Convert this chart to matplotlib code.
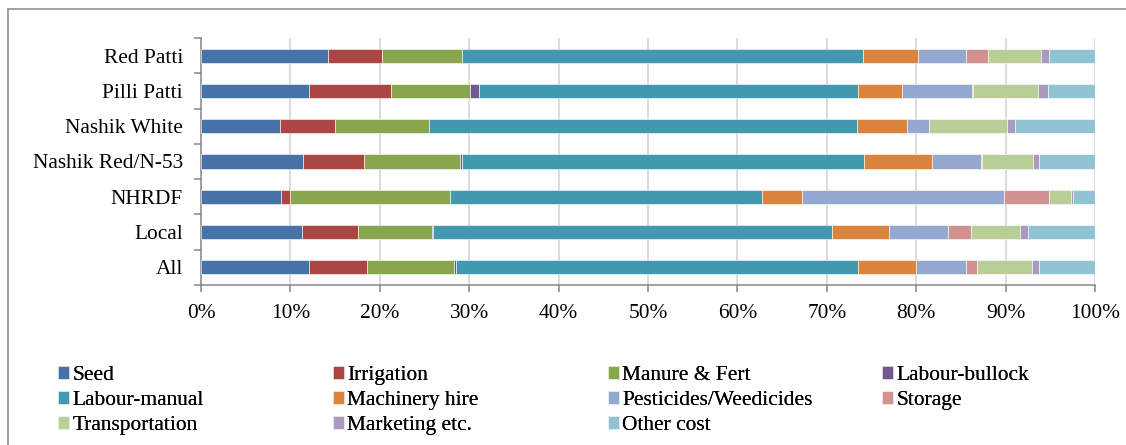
import numpy as np
import matplotlib
matplotlib.use('Agg')
import matplotlib.pyplot as plt
from matplotlib.patches import Rectangle

plt.rcParams['font.family'] = ['Liberation Serif', 'DejaVu Serif']

varieties = ['Red Patti', 'Pilli Patti', 'Nashik White', 'Nashik Red/N-53', 'NHRDF', 'Local', 'All']

# share of each cost item (%), same order as varieties
seed = [14.2, 12.1, 8.8, 11.4, 9.0, 11.3, 12.1]
irrigation = [6.1, 9.2, 6.2, 6.8, 0.9, 6.3, 6.5]
manure_fert = [8.9, 8.8, 10.5, 10.8, 18.0, 8.2, 9.7]
labour_bullock = [0.0, 1.0, 0.0, 0.2, 0.0, 0.1, 0.2]
labour_manual = [44.9, 42.4, 47.9, 45.0, 34.9, 44.7, 45.0]
machinery_hire = [6.1, 4.9, 5.6, 7.6, 4.4, 6.4, 6.5]
pesticides = [5.4, 7.8, 2.4, 5.4, 22.6, 6.6, 5.6]
storage = [2.4, 0.2, 0.0, 0.2, 5.0, 2.5, 1.2]
transportation = [6.0, 7.2, 8.8, 5.7, 2.5, 5.5, 6.2]
marketing = [0.8, 1.1, 0.9, 0.6, 0.2, 0.9, 0.7]
other_cost = [5.2, 5.3, 8.9, 6.3, 2.5, 7.5, 6.3]

series = [
    ('Seed', seed, '#4672A8'),
    ('Irrigation', irrigation, '#AA4644'),
    ('Manure & Fert', manure_fert, '#89A54E'),
    ('Labour-bullock', labour_bullock, '#71588F'),
    ('Labour-manual', labour_manual, '#4198AF'),
    ('Machinery hire', machinery_hire, '#DB843D'),
    ('Pesticides/Weedicides', pesticides, '#93A9CF'),
    ('Storage', storage, '#D19392'),
    ('Transportation', transportation, '#B9CD96'),
    ('Marketing etc.', marketing, '#A99BBD'),
    ('Other cost', other_cost, '#92C3D4'),
]

fs = 15.4

fig = plt.figure(figsize=(11.26, 4.45), dpi=100)
ax = fig.add_axes([201/1126, 1-285/445, 894/1126, 247/445])

ypos = np.arange(len(varieties))
left = np.zeros(len(varieties))
handles = []
for name, vals, col in series:
    b = ax.barh(ypos, vals, left=left, height=0.4, color=col, edgecolor='white',
                linewidth=0.4, label=name, zorder=3)
    handles.append(b)
    left = left + np.array(vals)

ax.set_xlim(0, 100)
ax.set_ylim(6.5, -0.5)
ax.set_yticks(ypos)
ax.set_yticklabels(varieties, fontsize=fs)
ax.set_yticks(np.arange(-0.5, 7, 1), minor=True)
ax.tick_params(axis='y', which='major', length=0, pad=13)
ax.tick_params(axis='y', which='minor', length=5, width=1.1, color='#868686', direction='out')

ax.set_xticks(np.arange(0, 101, 10))
ax.set_xticklabels([f'{v}%' for v in range(0, 101, 10)], fontsize=fs)
ax.tick_params(axis='x', length=5, width=1.1, color='#868686', pad=8.5)
ax.grid(axis='x', color='#d9d9d9', linewidth=1.3, zorder=0)
ax.set_axisbelow(True)

for s in ['top', 'right']:
    ax.spines[s].set_visible(False)
for s in ['left', 'bottom']:
    ax.spines[s].set_color('#868686')
    ax.spines[s].set_linewidth(1.1)

# legend: 4 columns filled row by row
col_x = [58, 333, 608, 882]
for j in range(4):
    hs = handles[j::4]
    lg = fig.legend(handles=hs, labels=[h.get_label() for h in hs],
                    loc='upper left', bbox_to_anchor=(col_x[j]/1126, 1-366/445),
                    frameon=False, fontsize=fs, borderpad=0, borderaxespad=0,
                    handlelength=0.52, handleheight=0.52, handletextpad=0.15,
                    labelspacing=0.28)
    fig.add_artist(lg)

# outer chart frame
fig.add_artist(Rectangle((8/1126, -0.05), 1.05, 1-9/445+0.05, transform=fig.transFigure,
                         fill=False, edgecolor='#868686', linewidth=1.1, clip_on=False))

fig.savefig('out.png', dpi=100)
